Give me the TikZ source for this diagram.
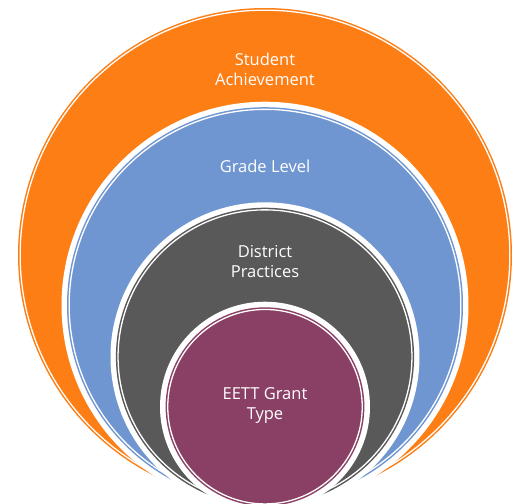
\documentclass[tikz,border=0pt]{standalone}
\usepackage{fontspec}
\setmainfont{Open Sans}
\usepackage{xcolor}
\usetikzlibrary{positioning}

\definecolor{achorange}{HTML}{FD7E14}
\definecolor{gradeblue}{HTML}{7096D1}
\definecolor{distgray}{HTML}{595959}
\definecolor{grantplum}{HTML}{8A4065}

\begin{document}
\begin{tikzpicture}[
  x=1pt,y=-1pt,
  gap/.style ={circle,fill=white,inner sep=0pt,outer sep=0pt},
  ring/.style={circle,inner sep=0pt,outer sep=0pt,line width=1.5pt,
               double=white,double distance=1.3pt},
  lab/.style ={text=white,align=center,font=\fontsize{16.5}{20}\selectfont},
]
\useasboundingbox (0,0) rectangle (515,504);
\clip (0,0) rectangle (515,504);

%% ─── Nested circles, outermost first ─────────────────────────────────────────
\node[ring,draw=achorange,fill=achorange,minimum size=489.7pt] (ach) at (265,255) {};

\node[gap,minimum size=407pt]   (gradegap) at (265,305.2) {};
\node[ring,draw=gradeblue,fill=gradeblue,minimum size=391.7pt] (grade) at (265,305.2) {};

\node[gap,minimum size=309pt]   (distgap) at (265,356.8) {};
\node[ring,draw=distgray,fill=distgray,minimum size=293.9pt] (dist) at (265,356.8) {};

\node[gap,minimum size=210pt]   (grantgap) at (265,406.7) {};
\node[ring,draw=grantplum,fill=grantplum,minimum size=194.5pt] (grant) at (265,406.7) {};

%% ─── Labels ──────────────────────────────────────────────────────────────────
\node[lab] (achlab)   at (265,69)  {Student\\Achievement};
\node[lab] (gradelab) at (265,166) {Grade Level};
\node[lab] (distlab)  at (265,262) {District\\Practices};
\node[lab] (grantlab) at (265,406) {EETT Grant\\Type};

\end{tikzpicture}
\end{document}
